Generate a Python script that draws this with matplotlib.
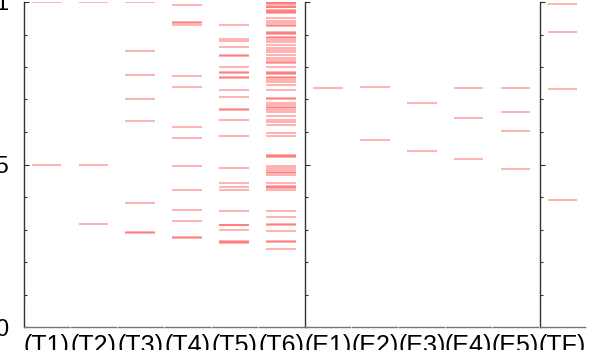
import numpy as np
import matplotlib
matplotlib.use("Agg")
import matplotlib.pyplot as plt

plt.rcParams['font.family'] = ['Liberation Sans', 'DejaVu Sans']

# Category names (three groups: T, E, TF)
labels = ["(T1)", "(T2)", "(T3)", "(T4)", "(T5)", "(T6)",
          "(E1)", "(E2)", "(E3)", "(E4)", "(E5)", "(TF)"]

# values, one horizontal line per value
T1 = [1.0, 0.5]
T2 = [1.0, 0.5, 0.318]
T3 = [1.0, 0.849, 0.776, 0.702, 0.635, 0.382, 0.291, 0.289]
T4 = [0.990, 0.938, 0.934, 0.928, 0.771, 0.738, 0.615, 0.582, 0.496,
      0.422, 0.360, 0.327, 0.276, 0.275]
T5 = [0.928, 0.887, 0.879, 0.861, 0.836, 0.835, 0.799, 0.785, 0.782,
      0.768, 0.767, 0.728, 0.709, 0.671, 0.669, 0.636, 0.587, 0.488,
      0.443, 0.431, 0.421, 0.356, 0.315, 0.314, 0.297, 0.266, 0.263, 0.260]
T6 = [0.998, 0.997, 0.992, 0.986, 0.985, 0.975, 0.972, 0.969, 0.965,
      0.950, 0.942, 0.936, 0.928, 0.927, 0.907, 0.906, 0.901, 0.893,
      0.888, 0.883, 0.878, 0.868, 0.858, 0.852, 0.847, 0.837, 0.827,
      0.822, 0.816, 0.811, 0.801, 0.784, 0.783, 0.778, 0.768, 0.767,
      0.760, 0.754, 0.745, 0.729, 0.706, 0.702, 0.688, 0.683, 0.678,
      0.673, 0.668, 0.662, 0.650, 0.637, 0.631, 0.622, 0.598, 0.587,
      0.528, 0.527, 0.524, 0.496, 0.488, 0.483, 0.478, 0.473, 0.468,
      0.442, 0.434, 0.430, 0.429, 0.422, 0.357, 0.339, 0.316, 0.315,
      0.296, 0.266, 0.261, 0.241]
E1 = [0.735]
E2 = [0.738, 0.574]
E3 = [0.688, 0.542]
E4 = [0.736, 0.644, 0.518]
E5 = [0.736, 0.661, 0.602, 0.486]
TF = [0.993, 0.908, 0.731, 0.391]

series = [T1, T2, T3, T4, T5, T6, E1, E2, E3, E4, E5, TF]
group_starts = [0, 6, 11]

W, H = 598, 350
fig = plt.figure(figsize=(W / 100, H / 100), dpi=100)

left_px = 24
pitch = 46.9
ax_w = 45
bottom_px = 23
ax_h = 325

for i, (lab, vals) in enumerate(zip(labels, series)):
    x0 = left_px + i * pitch
    ax = fig.add_axes([x0 / W, bottom_px / H, ax_w / W, ax_h / H])
    ax.hlines(vals, 0.17, 0.83, colors='red', alpha=0.38, linewidth=1.1)
    ax.set_xlim(0, 1)
    ax.set_ylim(0, 1)
    ax.spines['top'].set_visible(False)
    ax.spines['right'].set_visible(False)
    ax.spines['bottom'].set_color('#777777')
    ax.spines['bottom'].set_linewidth(1.0)
    ax.set_xticks([0.5])
    ax.set_xticklabels([lab])
    ax.tick_params(axis='x', length=0, pad=5, labelsize=18)
    if i in group_starts:
        ax.spines['left'].set_color('#333333')
        ax.spines['left'].set_linewidth(1.0)
        ax.set_yticks([0, 0.5, 1])
        ax.set_yticks(np.arange(0.1, 1.0, 0.1), minor=True)
        ax.tick_params(axis='y', which='major', direction='in', length=3.5,
                       width=0.8, color='#333333', pad=11, labelsize=17)
        ax.tick_params(axis='y', which='minor', direction='in', length=2,
                       width=0.8, color='#333333')
        if i == 0:
            ax.set_yticklabels(["0", "0.5", "1"])
        else:
            ax.set_yticklabels([])
    else:
        ax.spines['left'].set_visible(False)
        ax.set_yticks([])

fig.savefig("out.png", dpi=100)
